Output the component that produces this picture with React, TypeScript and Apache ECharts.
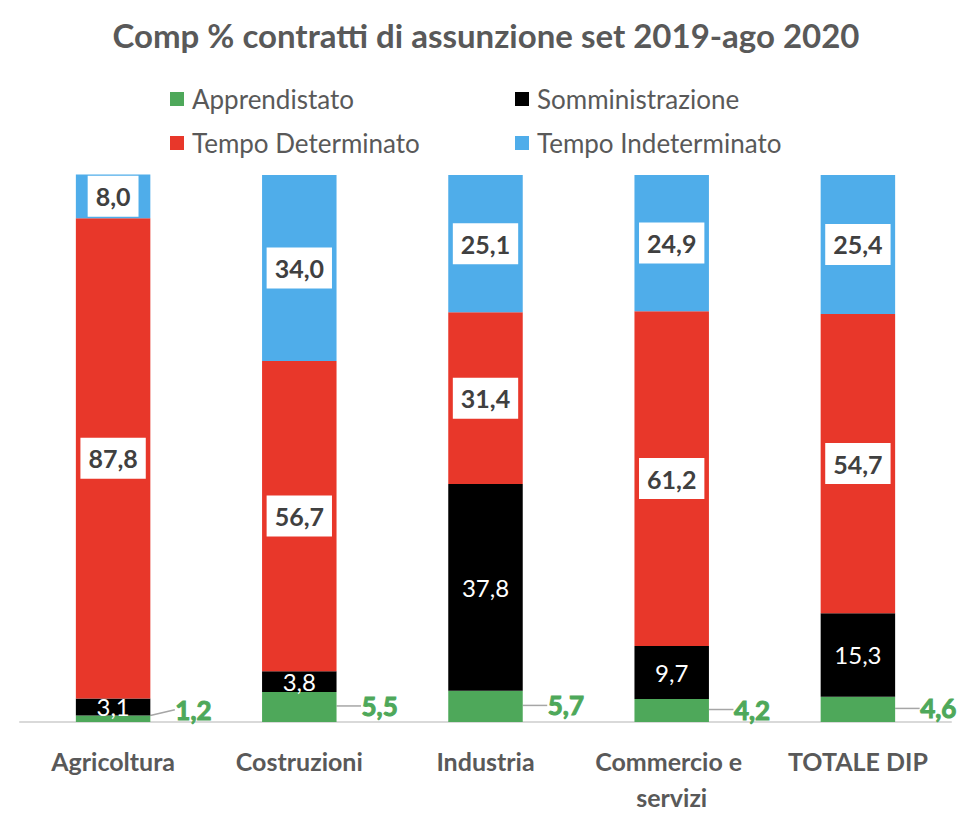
import React, { useEffect, useRef } from "react";
import * as echarts from "echarts";

const categories = ["Agricoltura", "Costruzioni", "Industria", "Commercio e servizi", "TOTALE DIP"];
const apprendistato = [1.2, 5.5, 5.7, 4.2, 4.6];
const somministrazione = [3.1, 3.8, 37.8, 9.7, 15.3];
const tempoDeterminato = [87.8, 56.7, 31.4, 61.2, 54.7];
const tempoIndeterminato = [8.0, 34.0, 25.1, 24.9, 25.4];
const seriesNames = ["Apprendistato", "Somministrazione", "Tempo Determinato", "Tempo Indeterminato"];

const FONT = "Lato";
const GREY = "#595959";
const fmt = (p: any) => Number(p.value).toFixed(1).replace(".", ",");

export default function App() {
  const ref = useRef<HTMLDivElement>(null);
  useEffect(() => {
    if (!ref.current) return;
    const chart = echarts.init(ref.current, undefined, { renderer: "svg" });
    const colors = ["#4EA85A", "#000000", "#E8372A", "#4FADEA"];
    const legendPos = [
      { left: 162, top: 76 },
      { left: 507, top: 76 },
      { left: 162, top: 120 },
      { left: 507, top: 120 },
    ];
    const boxLabel = {
      show: true,
      position: "inside",
      formatter: fmt,
      color: "#404040",
      fontFamily: FONT,
      fontWeight: "bold",
      fontSize: 25,
      lineHeight: 26,
      backgroundColor: "#ffffff",
      padding: [8, 8, 7, 8],
    };
    chart.setOption({
      animation: false,
      textStyle: { fontFamily: FONT },
      title: {
        text: "Comp % contratti di assunzione set 2019-ago 2020",
        left: "center",
        top: 5,
        textStyle: { fontFamily: FONT, fontSize: 33, fontWeight: "bold", color: GREY },
      },
      legend: seriesNames.map((n, i) => ({
        data: [n],
        left: legendPos[i].left,
        top: legendPos[i].top,
        padding: 0,
        icon: "rect",
        itemWidth: 14,
        itemHeight: 14,
        selectedMode: false,
        textStyle: { fontFamily: FONT, fontSize: 26, lineHeight: 30, color: GREY, padding: [0, 0, 0, 3] },
      })),
      grid: { left: 12, right: 13, top: 167, bottom: 121, containLabel: false },
      xAxis: {
        type: "category",
        data: categories,
        axisLine: { lineStyle: { color: "#d9d9d9", width: 2 } },
        axisTick: { show: false },
        axisLabel: {
          interval: 0,
          margin: 21,
          color: GREY,
          fontFamily: FONT,
          fontWeight: "bold",
          fontSize: 25,
          lineHeight: 36,
          width: 170,
          overflow: "break",
        },
      },
      yAxis: { type: "value", min: 0, max: 100, show: false, splitLine: { show: false } },
      series: [
        {
          name: seriesNames[0],
          type: "bar",
          stack: "s",
          barWidth: "40%",
          clip: false,
          data: apprendistato,
          itemStyle: { color: colors[0] },
          label: {
            show: true,
            position: "right",
            distance: 5,
            formatter: fmt,
            color: colors[0],
            fontFamily: FONT,
            fontWeight: "bold",
            fontSize: 26,
            textBorderColor: colors[0],
            textBorderWidth: 1,
          },
          labelLayout: (params: any) => ({ dx: 20, dy: params.rect.height < 15 ? -9 : -1 }),
          labelLine: { show: true, lineStyle: { color: "#a6a6a6", width: 1.5 } },
        },
        {
          name: seriesNames[1],
          type: "bar",
          stack: "s",
          clip: false,
          data: somministrazione,
          itemStyle: { color: colors[1] },
          label: {
            show: true,
            position: "inside",
            formatter: fmt,
            color: "#ffffff",
            fontFamily: FONT,
            fontSize: 24,
          },
        },
        {
          name: seriesNames[2],
          type: "bar",
          stack: "s",
          clip: false,
          data: tempoDeterminato,
          itemStyle: { color: colors[2] },
          label: boxLabel,
        },
        {
          name: seriesNames[3],
          type: "bar",
          stack: "s",
          clip: false,
          data: tempoIndeterminato,
          itemStyle: { color: colors[3] },
          label: boxLabel,
        },
      ],
    });
    return () => chart.dispose();
  }, []);
  return <div ref={ref} style={{ width: 956, height: 835 }} />;
}
